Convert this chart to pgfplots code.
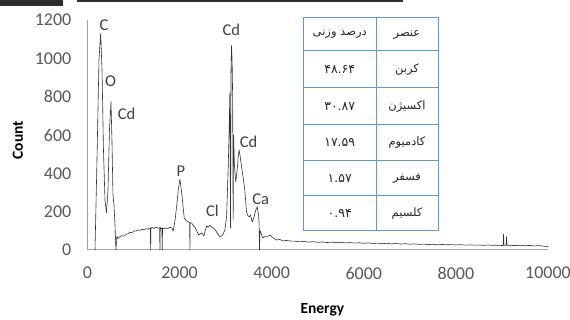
\documentclass[border=0pt]{standalone}
\usepackage{fontspec}
\setmainfont{Carlito}
\newfontfamily\arabicfont[Script=Arabic]{DejaVu Sans}
\usepackage{pgfplots}
\pgfplotsset{compat=1.18}
\TeXXeTstate=1
\definecolor{tickgray}{HTML}{595959}
\definecolor{axgray}{HTML}{A6A6A6}
\definecolor{tblue}{HTML}{5B9BD5}
\definecolor{lblgray}{HTML}{404040}
\begin{document}
\begin{tikzpicture}
\begin{axis}[
  at={(0,0)}, anchor=south west,
  scale only axis, width=460.5pt, height=230pt,
  xmin=0, xmax=10000, ymin=0, ymax=1200,
  axis x line=bottom, axis y line=left,
  axis line style={draw=axgray, line width=1pt, -},
  xtick={0,2000,4000,6000,8000,10000},
  ytick={0,200,400,600,800,1000,1200},
  scaled x ticks=false, scaled y ticks=false,
  major tick length=0pt,
  /pgf/number format/assume math mode=true,
  /pgf/number format/1000 sep={},
  tick label style={font=\fontsize{18}{18}\selectfont, text=tickgray, inner sep=0pt},
  xticklabel style={anchor=north, yshift=-17pt},
  yticklabel style={anchor=east, xshift=-16pt},
  xlabel={Energy}, ylabel={Count},
  label style={font=\bfseries\fontsize{15.5}{15.5}\selectfont, text=black},
  xlabel style={at={(axis description cs:0.51,-0.26)}, anchor=center},
  ylabel style={at={(axis description cs:-0.151,0.478)}, anchor=center},
  clip=false,
]
\addplot[color=black!80, line width=0.6pt, line join=round] coordinates {
(163,0) (206,470) (249,990) (286,1130) (315,940) (347,520) (380,260) (412,195)
(445,313) (477,626) (510,772) (531,574) (553,287) (575,235) (597,130) (618,0)
(640,73) (662,60) (705,70) (748,75) (792,72) (835,82) (879,85) (922,92)
(965,90) (1009,100) (1052,98) (1095,105) (1139,102) (1182,108) (1226,106)
(1269,112) (1312,108) (1356,115) (1365,112) (1371,0) (1377,112) (1399,118)
(1443,112) (1486,120) (1529,114) (1565,116) (1573,0) (1580,118) (1600,112)
(1616,114) (1623,0) (1630,115) (1659,110) (1703,115) (1746,112) (1790,118)
(1833,115) (1861,99) (1898,150) (1935,225) (1974,320) (2007,370) (2028,330)
(2056,276) (2100,167) (2152,151) (2191,146) (2218,145) (2224,0) (2230,143)
(2260,141) (2289,130) (2332,120) (2375,98) (2419,78) (2477,89) (2527,73)
(2586,125) (2620,118) (2657,130) (2690,120) (2729,115) (2766,108) (2803,94)
(2874,68) (2933,78) (2983,104) (3020,172) (3054,417) (3076,620) (3091,820)
(3106,115) (3117,950) (3128,1066) (3141,980) (3152,800) (3163,160) (3173,600)
(3189,450) (3206,390) (3221,356) (3254,430) (3275,490) (3293,522) (3315,490)
(3345,435) (3384,370) (3416,313) (3453,200) (3482,180) (3510,172) (3540,183)
(3575,146) (3612,169) (3655,209) (3683,226) (3714,183) (3727,140) (3735,0)
(3746,100) (3757,96) (3785,75) (3814,63) (3850,70) (3887,68) (3926,74)
(3974,78) (4013,66) (4056,60) (4104,52) (4176,55) (4247,47) (4321,50)
(4393,47) (4500,46) (4600,43) (4700,45) (4800,41) (4900,44) (5000,40)
(5100,42) (5200,39) (5300,41) (5400,38) (5500,40) (5600,37) (5700,39)
(5800,36) (5900,38) (6000,35) (6100,37) (6200,34) (6300,36) (6400,33)
(6500,35) (6600,32) (6700,34) (6800,31) (6900,33) (7000,30) (7100,32)
(7200,29) (7300,31) (7400,28) (7500,30) (7600,27) (7700,29) (7800,27)
(7900,28) (8000,26) (8100,28) (8200,25) (8300,27) (8400,25) (8500,26)
(8600,24) (8700,26) (8800,24) (8900,25) (9000,23) (9025,24) (9035,83)
(9045,24) (9090,24) (9100,70) (9110,24) (9200,24) (9300,23) (9400,25)
(9500,22) (9600,24) (9700,21) (9800,23) (9900,20) (10000,18)
};
\begin{scope}[every node/.style={font=\fontsize{16.5}{16.5}\selectfont, text=lblgray, inner sep=0pt}]
\node at (axis cs:358,1175) {C};
\node at (axis cs:500,880) {O};
\node at (axis cs:850,710) {Cd};
\node at (axis cs:3125,1150) {Cd};
\node at (axis cs:3500,565) {Cd};
\node at (axis cs:2030,412) {P};
\node at (axis cs:2710,204) {Cl};
\node at (axis cs:3760,266) {Ca};
\end{scope}
\end{axis}
% table
\fill[white] (215.8pt,19pt) rectangle (350.5pt,232pt);
\begin{scope}[draw=tblue, line width=1pt]
\draw (215.8pt,19pt) rectangle (350.5pt,232pt);
\draw (288.5pt,19pt) -- (288.5pt,232pt);
\foreach \yy in {199,162,125,89,54} \draw (215.8pt,\yy pt) -- (350.5pt,\yy pt);
\end{scope}
\begin{scope}[every node/.style={font=\arabicfont\fontsize{11.5}{11.5}\selectfont, text=black!85, inner sep=0pt}]
\node at (252.2pt,215.5pt) {\beginR درصد وزنی\endR};
\node at (319.5pt,215.5pt) {\beginR عنصر\endR};
\node at (319.5pt,180.5pt) {\beginR کربن\endR};
\node at (319.5pt,143.5pt) {\beginR اکسیژن\endR};
\node at (319.5pt,107pt) {\beginR کادمیوم\endR};
\node at (319.5pt,71.5pt) {\beginR فسفر\endR};
\node at (319.5pt,36.5pt) {\beginR کلسیم\endR};
\end{scope}
\begin{scope}[every node/.style={font=\arabicfont\fontsize{12.5}{12.5}\selectfont, text=black!85, inner sep=0pt}]
\node at (252.2pt,180.5pt) {۴۸.۶۴};
\node at (252.2pt,143.5pt) {۳۰.۸۷};
\node at (252.2pt,107pt) {۱۷.۵۹};
\node at (252.2pt,71.5pt) {۱.۵۷};
\node at (252.2pt,36.5pt) {۰.۹۴};
\end{scope}
% top artifacts
\fill[black!82] (-87.5pt,250pt) rectangle (-24.5pt,244pt);
\fill[black!82] (-10.5pt,250pt) rectangle (315.5pt,247.5pt);
\pgfresetboundingbox
\path[use as bounding box] (-87.5pt,-70pt) rectangle (482.5pt,250pt);
\end{tikzpicture}
\end{document}
